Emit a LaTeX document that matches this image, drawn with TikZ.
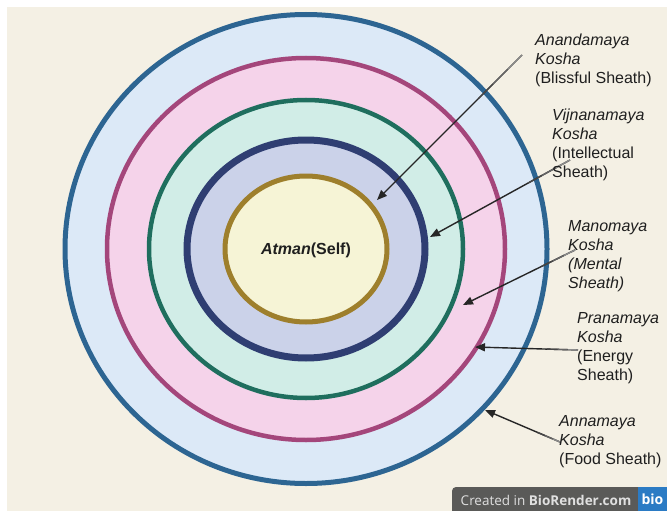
\documentclass[tikz,border=0pt]{standalone}
\usepackage{fontspec}
\setmainfont{Liberation Sans}
\newfontfamily\badgefont{Open Sans}
\usetikzlibrary{positioning, calc, arrows.meta, shapes.geometric}

\definecolor{bgBeige}{HTML}{F4F0E4}
\definecolor{annaRing}{HTML}{2D6592}
\definecolor{annaFill}{HTML}{DCE9F7}
\definecolor{pranRing}{HTML}{A4467B}
\definecolor{pranFill}{HTML}{F5D3EA}
\definecolor{manoRing}{HTML}{1F6E5E}
\definecolor{manoFill}{HTML}{D1EDE7}
\definecolor{vijRing}{HTML}{2F3E72}
\definecolor{vijFill}{HTML}{CBD2E9}
\definecolor{ananRing}{HTML}{9E7F2C}
\definecolor{ananFill}{HTML}{F6F4D6}
\definecolor{badgeGray}{HTML}{5A5A58}
\definecolor{badgeBlue}{HTML}{2B7BC4}

\begin{document}
\begin{tikzpicture}[x=1pt, y=-1pt, >={Triangle[length=10pt, width=8pt]},
    ring/.style={ellipse, inner sep=0pt, outer sep=0pt},
    sheath/.style={anchor=west, align=left, inner sep=0pt, text=black!88, font=\fontsize{16}{19}\selectfont},
    pointer/.style={->, line width=1.4pt, color=black!85},
    fadetail/.style={line width=1.4pt, line cap=butt}]
    % Background
    \useasboundingbox (0,0) rectangle (667,511);
    \fill[white] (0,0) rectangle (667,511);
    \fill[bgBeige] (7,7) rectangle (667,511);

    % Nested sheaths, outermost first
    \foreach \nm/\wd/\ht/\lw/\col/\fc in {anna/482/469/5/annaRing/annaFill,
        pran/398/382/4.5/pranRing/pranFill, mano/314/298/4.5/manoRing/manoFill,
        vij/238/218/7/vijRing/vijFill, anan/162/146/5/ananRing/ananFill} {
        \node[ring, minimum width=\wd pt, minimum height=\ht pt, line width=\lw pt,
            draw=\col, fill=\fc] (\nm) at (306,249) {};
    }

    % Centre
    \node[font=\fontsize{16}{19}\selectfont\bfseries, text=black!88] (atman) at (306,250) {\textit{Atman}(Self)};

    % Arrow ends
    \coordinate (ananTail) at (522,55);  \coordinate (ananTip) at (377,200);
    \coordinate (vijTail) at (570,160);  \coordinate (vijTip) at (430,237);
    \coordinate (manoTail) at (575,250); \coordinate (manoTip) at (463,305);
    \coordinate (pranTail) at (578,350); \coordinate (pranTip) at (475,347);
    \coordinate (annaTail) at (560,442); \coordinate (annaTip) at (485,410);

    % Pointers, fading towards the labels
    \foreach \nm in {anan, vij, mano, pran, anna} {
        \draw[pointer] (\nm Tail) -- (\nm Tip);
        \foreach \a/\b/\shade in {0/0.1/45, 0.1/0.2/60, 0.2/0.3/72} {
            \draw[fadetail, color=black!\shade] ($(\nm Tail)!\a!(\nm Tip)$) -- ($(\nm Tail)!\b!(\nm Tip)$);
        }
    }

    % Labels
    \node[sheath] (ananLbl) at (535,60) {\textit{Anandamaya}\\\textit{Kosha}\\(Blissful Sheath)};
    \node[sheath] (vijLbl) at (552,144.5) {\textit{Vijnanamaya}\\\textit{Kosha}\\(Intellectual\\Sheath)};
    \node[sheath, font=\fontsize{16}{19}\selectfont\itshape] (manoLbl) at (568,256) {Manomaya\\Kosha\\(Mental\\Sheath)};
    \node[sheath] (pranLbl) at (577,348.5) {\textit{Pranamaya}\\\textit{Kosha}\\(Energy\\Sheath)};
    \node[sheath] (annaLbl) at (559,441.5) {\textit{Annamaya}\\\textit{Kosha}\\(Food Sheath)};

    % BioRender badge
    \fill[badgeGray] (452,511) [rounded corners=4pt]-- (452,487) [sharp corners]-- (638,487) -- (638,511) -- cycle;
    \fill[badgeBlue] (638,487) rectangle (667,511);
    \node[font=\badgefont\fontsize{13.5}{15}\selectfont, text=white!88!black] (credit) at (546,500) {Created in \textbf{BioRender.com}};
    \node[font=\badgefont\fontsize{14}{15}\selectfont\bfseries, text=white] (bioLogo) at (652.5,499) {bio};
\end{tikzpicture}
\end{document}
